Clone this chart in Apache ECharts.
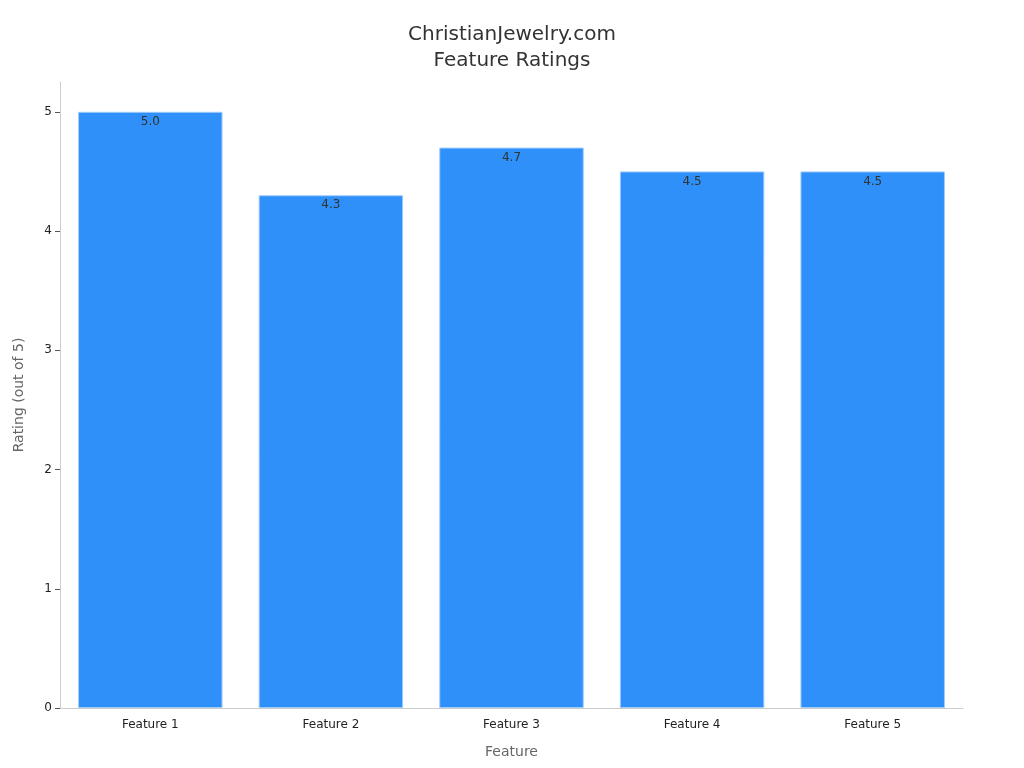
<!DOCTYPE html>
<html><head><meta charset="utf-8">
<script src="https://cdn.jsdelivr.net/npm/echarts@6/dist/echarts.min.js"></script>
<style>html,body{margin:0;padding:0;background:#fff}#c{width:1024px;height:768px}</style>
</head><body><div id="c"></div>
<script>
const categories = ["Feature 1", "Feature 2", "Feature 3", "Feature 4", "Feature 5"];
const ratings = [5.0, 4.3, 4.7, 4.5, 4.5];
const yTicks = [0, 1, 2, 3, 4, 5];

const chart = echarts.init(document.getElementById('c'));
chart.setOption({
  backgroundColor: '#fff',
  animation: false,
  textStyle: { fontFamily: 'DejaVu Sans' },
  title: {
    text: 'ChristianJewelry.com\nFeature Ratings',
    left: 'center', top: 17,
    textStyle: { fontSize: 20, fontWeight: 'normal', color: '#333', lineHeight: 26, fontFamily: 'DejaVu Sans' }
  },
  grid: { left: 60, right: 61, top: 82, bottom: 60, containLabel: false },
  xAxis: {
    type: 'category', data: categories,
    name: 'Feature', nameLocation: 'middle', nameGap: 37,
    nameTextStyle: { fontSize: 14, color: '#666' },
    axisLine: { lineStyle: { color: '#ccc' } },
    axisTick: { alignWithLabel: true, length: 5, lineStyle: { color: '#555' } },
    axisLabel: { fontSize: 12, color: '#222', margin: 11 }
  },
  yAxis: {
    type: 'value', min: 0, max: 5.25,
    name: 'Rating (out of 5)', nameLocation: 'middle', nameGap: 34,
    nameTextStyle: { fontSize: 14, color: '#666' },
    axisLine: { show: true, lineStyle: { color: '#ccc' } },
    axisTick: { show: true, length: 5, lineStyle: { color: '#555' }, customValues: yTicks },
    axisLabel: { fontSize: 12, color: '#222', margin: 8, customValues: yTicks },
    splitLine: { show: false }
  },
  series: [{
    type: 'bar', data: ratings, barWidth: '80%',
    itemStyle: { color: '#2E90F8', borderColor: '#9fcbfb', borderWidth: 1 },
    label: { show: true, position: 'insideTop', distance: 4, fontSize: 12, color: '#333',
      formatter: p => p.value.toFixed(1) }
  }]
});
</script></body></html>
